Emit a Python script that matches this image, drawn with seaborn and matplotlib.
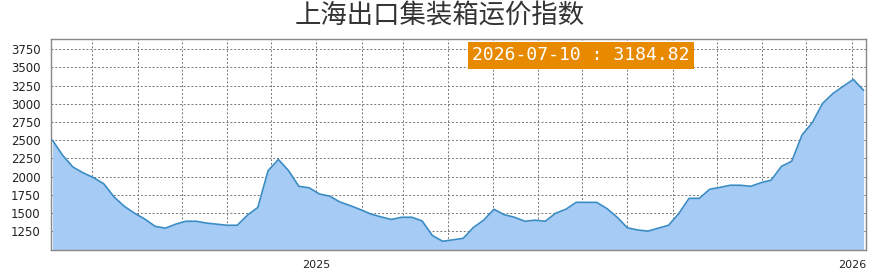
import seaborn as sns
import matplotlib.pyplot as plt
import matplotlib.dates as mdates
import pandas as pd

# weekly index values
start_date = "2024-07-05"
values = [
    2500, 2290, 2130, 2050, 1985, 1900, 1720, 1590, 1495, 1415,
    1315, 1290, 1345, 1385, 1385, 1360, 1345, 1330, 1330, 1470,
    1575, 2080, 2235, 2080, 1865, 1845, 1760, 1730, 1650, 1600,
    1545, 1485, 1445, 1410, 1440, 1440, 1390, 1190, 1110, 1130,
    1150, 1300, 1400, 1550, 1475, 1440, 1385, 1400, 1385, 1495,
    1550, 1645, 1645, 1645, 1560, 1440, 1295, 1265, 1250, 1290,
    1330, 1490, 1700, 1700, 1825, 1850, 1880, 1880, 1865, 1915,
    1950, 2140, 2210, 2570, 2740, 3005, 3140, 3240, 3335, 3184.82,
]
title = "上海出口集装箱运价指数"
badge = "2026-07-10 : 3184.82"
y_ticks = [1250, 1500, 1750, 2000, 2250, 2500, 2750, 3000, 3250, 3500, 3750]

df = pd.DataFrame({
    "date": pd.date_range(start_date, periods=len(values), freq="7D"),
    "index": values,
})

sns.set_style("white")
plt.rcParams["font.family"] = ["DejaVu Sans", "Noto Sans CJK SC"]

fig = plt.figure(figsize=(8.79, 2.77), dpi=100)
ax = fig.add_axes([0.058, 0.0975, 0.927, 0.7615])

ax.fill_between(df["date"], df["index"], 0, color="#a6cbf5", lw=0)
sns.lineplot(data=df, x="date", y="index", ax=ax, color="#3a8cc4", lw=1.2)

ax.set_xlim(pd.Timestamp("2024-07-04"), pd.Timestamp("2026-01-10 12:00"))
ax.set_ylim(990, 3890)
ax.set_yticks(y_ticks)

ax.xaxis.set_major_locator(mdates.MonthLocator())
ax.xaxis.set_major_formatter(
    plt.FuncFormatter(lambda v, p: str(mdates.num2date(v).year)
                      if mdates.num2date(v).month == 1 else "")
)

ax.grid(True, color="#777777", ls=(0, (2, 2)), lw=0.7)
ax.tick_params(axis="both", length=4, width=0.8, color="#777777",
               labelsize=8.5, labelcolor="#222222", direction="out")
ax.tick_params(axis="x", pad=3, labelsize=8)
for s in ax.spines.values():
    s.set_color("#888888")
    s.set_linewidth(1.0)
ax.set_xlabel("")
ax.set_ylabel("")

fig.text(0.5, 0.945, title, ha="center", va="center", fontsize=19,
         color="#333333", family=["Noto Sans CJK SC", "DejaVu Sans"])
fig.text(0.661, 0.80, badge, ha="center", va="center", fontsize=13,
         color="white", family="DejaVu Sans Mono",
         bbox=dict(boxstyle="square,pad=0.25", fc="#e88a00", ec="none"))

plt.savefig("out.png", dpi=100)
